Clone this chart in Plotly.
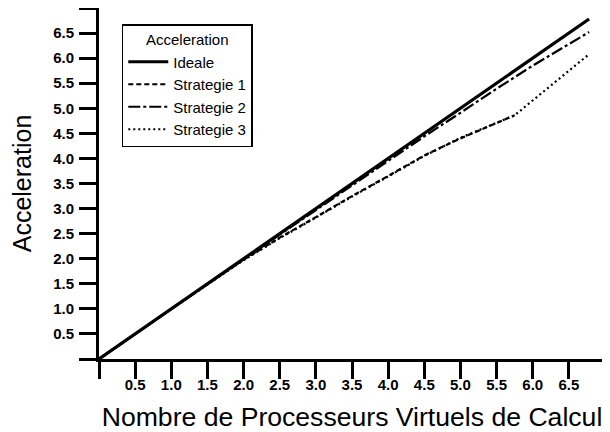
import plotly.graph_objects as go

# Donnees (nombre de processeurs virtuels -> acceleration)
nb_ideale = [0, 6.78]
acc_ideale = [0, 6.78]

nb_strat1 = [0, 1, 2, 2.5, 3, 3.5, 4, 4.5, 5, 5.5, 5.75]
acc_strat1 = [0, 1, 1.98, 2.42, 2.83, 3.25, 3.65, 4.06, 4.40, 4.71, 4.86]

nb_strat2 = [0, 1, 2, 2.5, 3, 3.5, 4, 4.5, 5, 5.5, 6, 6.5, 6.78]
acc_strat2 = [0, 1, 1.99, 2.48, 2.97, 3.47, 3.96, 4.44, 4.91, 5.39, 5.85, 6.29, 6.52]

nb_strat3 = [0, 1, 2, 2.5, 3, 3.5, 4, 4.5, 5, 5.5, 5.75, 6.78]
acc_strat3 = [0, 1, 1.97, 2.41, 2.82, 3.24, 3.64, 4.05, 4.41, 4.72, 4.86, 6.08]

tick_vals = [0, 0.5, 1.0, 1.5, 2.0, 2.5, 3.0, 3.5, 4.0, 4.5, 5.0, 5.5, 6.0, 6.5, 7.0]
tick_text = ["", "0.5", "1.0", "1.5", "2.0", "2.5", "3.0", "3.5", "4.0",
             "4.5", "5.0", "5.5", "6.0", "6.5", ""]

POLICE = "Liberation Sans, Arial, Helvetica, sans-serif"

fig = go.Figure()
fig.add_trace(go.Scatter(x=nb_ideale, y=acc_ideale, mode="lines", name="Ideale",
                         line=dict(color="black", width=3.2)))
fig.add_trace(go.Scatter(x=nb_strat1, y=acc_strat1, mode="lines", name="Strategie 1",
                         line=dict(color="black", width=2.2, dash="5px,3px")))
fig.add_trace(go.Scatter(x=nb_strat2, y=acc_strat2, mode="lines", name="Strategie 2",
                         line=dict(color="black", width=2.2, dash="12px,3px,3px,3px")))
fig.add_trace(go.Scatter(x=nb_strat3, y=acc_strat3, mode="lines", name="Strategie 3",
                         line=dict(color="black", width=2.2, dash="2px,3px")))

axe = dict(
    range=[0, 7], tickmode="array", tickvals=tick_vals, ticktext=tick_text,
    showgrid=False, zeroline=False, showline=True, linecolor="black", linewidth=3,
    ticks="outside", ticklen=17, tickwidth=3, tickcolor="black",
    tickfont=dict(family=POLICE, size=15, color="black", weight="bold"),
    automargin=False,
)

fig.update_xaxes(axe, title=dict(text="Nombre de Processeurs Virtuels de Calcul",
                                 font=dict(family=POLICE, size=26.6, color="black"),
                                 standoff=18),
                 ticklabelstandoff=-7)
fig.update_yaxes(axe, title=dict(text="Acceleration",
                                 font=dict(family=POLICE, size=25, color="black"),
                                 standoff=15),
                 ticklabelstandoff=2)

# la page ajoute une marge de 8 px : figure 602x424 pour tenir dans 610x432
fig.update_layout(
    width=602, height=424,
    margin=dict(l=91, r=5, t=0, b=73),
    paper_bgcolor="white", plot_bgcolor="white",
    font=dict(family=POLICE, color="black"),
    showlegend=True,
    legend=dict(
        x=0.045, y=0.953, xanchor="left", yanchor="top",
        bgcolor="white", bordercolor="black", borderwidth=1.5,
        font=dict(family=POLICE, size=15, color="black"),
        title=dict(text="Acceleration", side="top center",
                   font=dict(family=POLICE, size=15, color="black")),
        itemwidth=40, tracegroupgap=0,
    ),
)

fig.write_html("out.html")
